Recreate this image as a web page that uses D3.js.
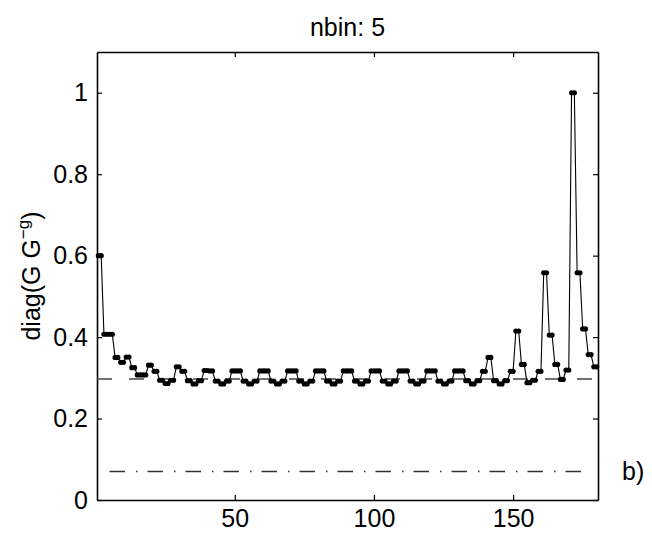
<!DOCTYPE html>
<html>
<head>
<meta charset="utf-8">
<script src="https://cdn.jsdelivr.net/npm/d3@7"></script>
<style>
  body { margin: 0; background: #fff; }
  svg text { font-family: "Liberation Sans", Arial, Helvetica, sans-serif; }
</style>
</head>
<body>
<div id="chart"></div>
<script>
// diag values, one per index 1..180
const diagValues = [
  0.600,0.600,0.407,0.407,0.407,0.407,0.350,0.350,0.338,0.338,
  0.351,0.351,0.325,0.325,0.307,0.307,0.307,0.307,0.331,0.331,
  0.316,0.316,0.294,0.294,0.286,0.286,0.294,0.294,0.327,0.327,
  0.316,0.316,0.293,0.293,0.285,0.285,0.293,0.293,0.318,0.318,
  0.317,0.317,0.292,0.292,0.285,0.285,0.292,0.292,0.317,0.317,
  0.317,0.317,0.292,0.292,0.285,0.285,0.292,0.292,0.317,0.317,
  0.317,0.317,0.292,0.292,0.285,0.285,0.292,0.292,0.317,0.317,
  0.317,0.317,0.292,0.292,0.285,0.285,0.292,0.292,0.317,0.317,
  0.317,0.317,0.292,0.292,0.285,0.285,0.292,0.292,0.317,0.317,
  0.317,0.317,0.292,0.292,0.285,0.285,0.292,0.292,0.317,0.317,
  0.317,0.317,0.292,0.292,0.285,0.285,0.292,0.292,0.317,0.317,
  0.317,0.317,0.292,0.292,0.285,0.285,0.292,0.292,0.317,0.317,
  0.317,0.317,0.292,0.292,0.285,0.285,0.292,0.292,0.317,0.317,
  0.317,0.317,0.293,0.293,0.285,0.285,0.293,0.293,0.316,0.316,
  0.350,0.350,0.293,0.293,0.285,0.285,0.293,0.293,0.316,0.316,
  0.415,0.415,0.333,0.333,0.288,0.288,0.294,0.294,0.316,0.316,
  0.558,0.558,0.405,0.405,0.333,0.333,0.296,0.296,0.319,0.319,
  1.000,1.000,0.558,0.558,0.420,0.420,0.357,0.357,0.327,0.327
];

// reference levels: dashed one over the whole range, dash-dot one shorter
const dashedLevel = [0.297];
const dashedRange = [0.5, 180.5];
const dashDotLevel = [0.07];
const dashDotRange = [5, 177.6];

const xTicks = [50, 100, 150];
const yTicks = [0, 0.2, 0.4, 0.6, 0.8, 1];
const xDomain = [0.5, 180.5];
const yDomain = [0, 1.1];

const titleText = "nbin: 5";
const panelText = "b)";

class diagChart {
    constructor(parentElement, values) {
        this.parentElement = parentElement;
        this.values = values;
        this.initVis();
    }

    initVis() {
        let vis = this;

        vis.margin = {top: 52, right: 54, bottom: 44, left: 97};
        vis.width = 652 - vis.margin.left - vis.margin.right;
        vis.height = 544 - vis.margin.top - vis.margin.bottom;

        vis.root = d3.select("#" + vis.parentElement).append("svg")
            .attr("width", 652)
            .attr("height", 544);

        vis.svg = vis.root.append("g")
            .attr("transform", "translate(" + vis.margin.left + "," + vis.margin.top + ")");

        vis.x = d3.scaleLinear().domain(xDomain).range([0, vis.width]);
        vis.y = d3.scaleLinear().domain(yDomain).range([vis.height, 0]);

        vis.wrangleData();
    }

    wrangleData() {
        let vis = this;
        vis.displayData = vis.values.map((v, i) => ({idx: i + 1, val: v}));
        vis.updateVis();
    }

    updateVis() {
        let vis = this;
        let fs = 25;

        // axes, ticks pointing inward on all four sides
        let fmt = d3.format("~g");
        let bottom = vis.svg.append("g")
            .attr("transform", "translate(0," + vis.height + ")")
            .call(d3.axisBottom(vis.x).tickValues(xTicks).tickSizeInner(-5).tickSizeOuter(0).tickPadding(9));
        let left = vis.svg.append("g")
            .call(d3.axisLeft(vis.y).tickValues(yTicks).tickFormat(fmt).tickSizeInner(-5).tickSizeOuter(0).tickPadding(9));
        let top = vis.svg.append("g")
            .call(d3.axisTop(vis.x).tickValues(xTicks).tickFormat("").tickSizeInner(-5).tickSizeOuter(0));
        let right = vis.svg.append("g")
            .attr("transform", "translate(" + vis.width + ",0)")
            .call(d3.axisRight(vis.y).tickValues(yTicks).tickFormat("").tickSizeInner(-5).tickSizeOuter(0));

        [bottom, left, top, right].forEach(ax => {
            ax.select(".domain").attr("stroke", "#000").attr("stroke-width", 1.6);
            ax.selectAll(".tick line").attr("stroke", "#000").attr("stroke-width", 1.2);
            ax.selectAll(".tick text")
                .attr("fill", "#000")
                .style("font-size", fs + "px");
        });

        // reference lines
        vis.svg.append("line")
            .attr("x1", vis.x(dashedRange[0]))
            .attr("x2", vis.x(dashedRange[1]))
            .attr("y1", vis.y(dashedLevel[0]))
            .attr("y2", vis.y(dashedLevel[0]))
            .attr("stroke", "#444")
            .attr("stroke-width", 1.6)
            .attr("stroke-dasharray", "15,17");

        vis.svg.append("line")
            .attr("x1", vis.x(dashDotRange[0]))
            .attr("x2", vis.x(dashDotRange[1]))
            .attr("y1", vis.y(dashDotLevel[0]))
            .attr("y2", vis.y(dashDotLevel[0]))
            .attr("stroke", "#333")
            .attr("stroke-width", 1.6)
            .attr("stroke-dasharray", "15.5,11,1.5,10");

        // data line + dots
        let line = d3.line()
            .x(d => vis.x(d.idx))
            .y(d => vis.y(d.val));

        vis.svg.append("path")
            .datum(vis.displayData)
            .attr("d", line)
            .attr("fill", "none")
            .attr("stroke", "#000")
            .attr("stroke-width", 1.1);

        vis.svg.selectAll(".dot")
            .data(vis.displayData)
            .enter().append("circle")
            .attr("class", "dot")
            .attr("cx", d => vis.x(d.idx))
            .attr("cy", d => vis.y(d.val))
            .attr("r", 2.6)
            .attr("fill", "#000");

        // title
        vis.root.append("text")
            .text(titleText)
            .attr("x", vis.margin.left + vis.width / 2)
            .attr("y", 36)
            .attr("text-anchor", "middle")
            .style("font-size", fs + "px");

        // y label with superscript
        let ylab = vis.root.append("text")
            .attr("transform", "translate(40," + (vis.margin.top + vis.height / 2) + ") rotate(-90)")
            .attr("text-anchor", "middle")
            .style("font-size", fs + "px");
        ylab.append("tspan").text("diag(G G");
        ylab.append("tspan").text("\u2212g").attr("dy", -11).style("font-size", "17px");
        ylab.append("tspan").text(")").attr("dy", 11);

        // panel letter
        vis.root.append("text")
            .text(panelText)
            .attr("x", 622)
            .attr("y", vis.margin.top + vis.y(dashDotLevel[0]) + 9)
            .style("font-size", fs + "px");
    }
}

new diagChart("chart", diagValues);
</script>
</body>
</html>
